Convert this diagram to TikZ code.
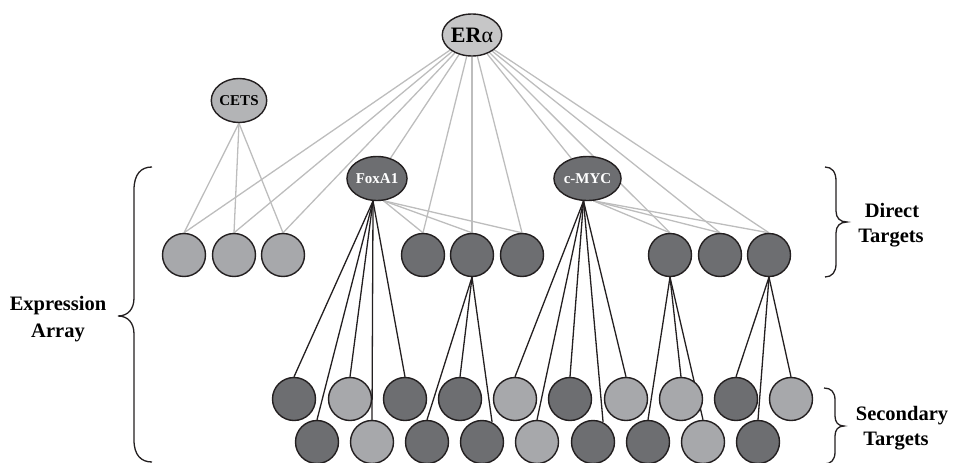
\documentclass[tikz,border=0pt]{standalone}
\usepackage{fontspec}
\setmainfont{Liberation Serif}
\usetikzlibrary{shapes.geometric,backgrounds}
\definecolor{lightfill}{HTML}{A7A8AB}
\definecolor{darkfill}{HTML}{6D6E71}
\definecolor{erfill}{HTML}{C6C6C7}
\definecolor{cetsfill}{HTML}{B3B4B6}
\definecolor{grayline}{HTML}{BDBDBD}
\definecolor{inkblack}{HTML}{231F20}
\begin{document}
\begin{tikzpicture}[x=1pt,y=-1pt,
  hubnode/.style={ellipse, draw=inkblack, line width=1.4pt, inner sep=0pt,
    minimum width=55pt, minimum height=44pt,
    font=\fontsize{15}{18}\selectfont\bfseries},
  tfdark/.style={hubnode, fill=darkfill, text=white},
  genebase/.style={circle, draw=inkblack, line width=1.4pt, inner sep=0pt, minimum size=43pt},
  lg/.style={genebase, fill=lightfill},
  dg/.style={genebase, fill=darkfill},
  gline/.style={draw=grayline, line width=1.3pt},
  bline/.style={draw=inkblack, line width=1.3pt},
  brace/.style={draw=inkblack, line width=1.3pt},
  lab/.style={font=\fontsize{20.5}{25}\selectfont\bfseries, inner sep=0pt, anchor=base}]
\useasboundingbox (0,0) rectangle (953,463);

% hubs
\node[hubnode, fill=erfill, minimum width=59pt, minimum height=42pt, font=\fontsize{22}{24}\selectfont] (era) at (472,35) {{\bfseries ER}α};
\node[hubnode, fill=cetsfill] (cets) at (239,100.5) {CETS};
\node[tfdark] (foxa1) at (377,178.5) {FoxA1};
\node[tfdark] (cmyc) at (587.5,178.5) {c-MYC};

% direct targets
\node[lg] (a1) at (184,255) {};
\node[lg] (a2) at (234,255) {};
\node[lg] (a3) at (283,255) {};
\node[dg] (m1) at (423,255) {};
\node[dg] (m2) at (472,255) {};
\node[dg] (m3) at (522,255) {};
\node[dg] (r1) at (670,255) {};
\node[dg] (r2) at (720,255) {};
\node[dg] (r3) at (769,255) {};

% secondary targets, upper row
\node[dg] (u1) at (294,399) {};
\node[lg] (u2) at (350,399) {};
\node[dg] (u3) at (405,399) {};
\node[dg] (u4) at (460,399) {};
\node[lg] (u5) at (515,399) {};
\node[dg] (u6) at (570,399) {};
\node[lg] (u7) at (626,399) {};
\node[lg] (u8) at (681,399) {};
\node[dg] (u9) at (736,399) {};
\node[lg] (u10) at (791,399) {};

% secondary targets, lower row
\node[dg] (l1) at (317,442) {};
\node[lg] (l2) at (372,442) {};
\node[dg] (l3) at (427,442) {};
\node[dg] (l4) at (482,442) {};
\node[lg] (l5) at (537,442) {};
\node[dg] (l6) at (593,442) {};
\node[dg] (l7) at (648,442) {};
\node[lg] (l8) at (703,442) {};
\node[dg] (l9) at (758,442) {};

\begin{pgfonlayer}{background}
  % ER alpha
  \foreach \t in {a1,a2,a3,m1,m2,m3,r1,r2,r3}
    \draw[gline] (era) -- (\t.north);
  \draw[gline] (era) -- (foxa1);
  \draw[gline] (era) -- (cmyc);
  % CETS
  \foreach \t in {a1,a2,a3}
    \draw[gline] (cets.south) -- (\t.north);
  % FoxA1 / c-MYC to direct targets
  \foreach \t in {m1,m2,m3}
    \draw[gline] (foxa1.-74) -- (\t.north);
  \foreach \t in {r1,r2,r3}
    \draw[gline] (cmyc.-75) -- (\t.north);
  % secondary
  \foreach \t in {u1,l1,u2,l2,u3}
    \draw[bline] (foxa1.-100) -- (\t.north);
  \draw[bline] (m2.south) -- (l3.north);
  \draw[bline] (m2.south) -- (u4.north);
  \draw[bline] (m2.south) -- (l4.63);
  \foreach \t in {u5,l5,u6,u7}
    \draw[bline] (cmyc.-100) -- (\t.north);
  \draw[bline] (cmyc.-100) -- (l6.63);
  \foreach \t in {l7,u8,l8}
    \draw[bline] (r1.south) -- (\t.north);
  \foreach \t in {u9,l9,u10}
    \draw[bline] (r3.south) -- (\t.north);
\end{pgfonlayer}

% braces
\draw[brace] (152,167) .. controls (141,167) and (134,174) .. (134,190)
  -- (134,298) .. controls (134,309) and (128,316) .. (118,316)
  .. controls (128,316) and (134,323) .. (134,334)
  -- (134,440) .. controls (134,455) and (141,462) .. (152,462);
\draw[brace] (825,167) .. controls (832,167) and (836,172) .. (836,181)
  -- (836,211) .. controls (836,218) and (840,222) .. (847,222)
  .. controls (840,222) and (836,226) .. (836,233)
  -- (836,264) .. controls (836,272) and (832,277) .. (825,277);
\draw[brace] (824,388) .. controls (831,388) and (835,392) .. (835,400)
  -- (835,416) .. controls (835,422) and (838,426) .. (844,426)
  .. controls (838,426) and (835,430) .. (835,436)
  -- (835,452) .. controls (835,460) and (831,464) .. (824,464);

% labels
\node[lab] (expr1) at (58,310) {Expression};
\node[lab] (expr2) at (58,337) {Array};
\node[lab] (dir1) at (892,217) {Direct};
\node[lab] (dir2) at (891,242) {Targets};
\node[lab] (sec1) at (902,420) {Secondary};
\node[lab] (sec2) at (896,445) {Targets};
\end{tikzpicture}
\end{document}
